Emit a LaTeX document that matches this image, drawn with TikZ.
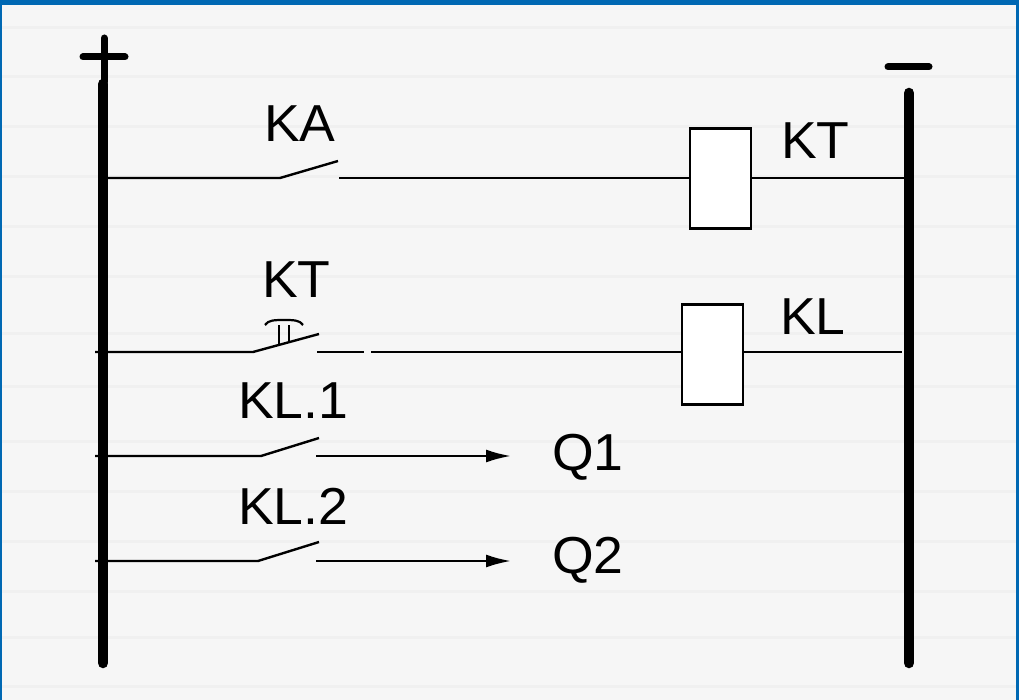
\documentclass[tikz,border=0pt]{standalone}
\usepackage{fontspec}
\setmainfont{Liberation Sans}
\definecolor{frameblue}{HTML}{0068B3}
\definecolor{bgfill}{HTML}{F6F6F6}
\definecolor{stripe}{HTML}{F0F0F0}
\usetikzlibrary{arrows.meta}
\tikzset{
  x=1pt,y=-1pt,
  bus/.style={line width=10.5pt,line cap=round,black},
  thinw/.style={line width=2.4pt,black},
  sign/.style={line width=7pt,line cap=round,black},
  coil/.style={draw=black,line width=2.2pt,fill=white,minimum width=61pt,minimum height=100pt,inner sep=0pt},
  lab/.style={font=\fontsize{52}{52}\selectfont,inner sep=0pt,text=black,xscale=1.03},
  arr/.style={thinw,-{Latex[length=25pt,width=13pt]}}
}
\begin{document}
\begin{tikzpicture}
\useasboundingbox (0,0) rectangle (1019,700);
\fill[bgfill] (0,0) rectangle (1019,700);
\foreach \yy in {26,75,125,175,225,275,332,385,440,490,540,590,636,685}
  \fill[stripe] (0,\yy) rectangle (1019,\yy+3);
\fill[frameblue] (0,0) rectangle (1019,5);
\fill[frameblue] (0,0) rectangle (2,700);
\fill[frameblue] (1016,0) rectangle (1019,700);
% buses
\coordinate (plusT) at (103,84);
\coordinate (plusB) at (103,663);
\coordinate (minusT) at (909,93);
\coordinate (minusB) at (909,663);
\draw[bus] (plusT) -- (plusB);
\draw[bus] (minusT) -- (minusB);
% signs
\coordinate (pv1) at (104,38);
\coordinate (pv2) at (104,82);
\coordinate (ph1) at (83,57);
\coordinate (ph2) at (125,57);
\coordinate (m1) at (888,67);
\coordinate (m2) at (929,67);
\draw[sign] (pv1) -- (pv2);
\draw[sign] (ph1) -- (ph2);
\draw[sign] (m1) -- (m2);
% coils
\node[coil] (kt) at (720.5,178.5) {};
\node[coil] (kl) at (712.5,354.5) {};
% row 1
\coordinate (a0) at (102,178);
\coordinate (a1) at (280,178);
\coordinate (a2) at (338,161);
\coordinate (a3) at (339,178);
\coordinate (a4) at (905,178);
\draw[thinw] (a0) -- (a1) -- (a2);
\draw[thinw] (a3) -- (a3 -| kt.west);
\draw[thinw] (a4 -| kt.east) -- (a4);
% row 2
\coordinate (b0) at (95,352);
\coordinate (b1) at (253,352);
\coordinate (b2) at (319,334);
\coordinate (b3) at (317,352);
\coordinate (b4) at (364,352);
\coordinate (b5) at (371,352);
\coordinate (b6) at (902,352);
\draw[thinw] (b0) -- (b1) -- (b2);
\draw[thinw] (b3) -- (b4);
\draw[thinw] (b5) -- (b5 -| kl.west);
\draw[thinw] (b6 -| kl.east) -- (b6);
% delay symbol
\coordinate (d1) at (279,344);
\coordinate (d2) at (279,325);
\coordinate (d3) at (289,342);
\coordinate (d4) at (289,325);
\coordinate (d5) at (265,325);
\coordinate (d6) at (303,325);
\draw[line width=2.4pt] (d1) -- (d2);
\draw[line width=2.4pt] (d3) -- (d4);
\draw[line width=2.2pt] (d5) .. controls (268,320) and (275,320) .. (284,320) .. controls (293,320) and (300,320) .. (d6);
% row 3
\coordinate (c0) at (95,456);
\coordinate (c1) at (261,456);
\coordinate (c2) at (319,438);
\coordinate (c3) at (316,456);
\coordinate (c4) at (511,456);
\node[lab,anchor=west] (q1) at (552,457) {Q1};
\draw[thinw] (c0) -- (c1) -- (c2);
\draw[arr] (c3) -- (c4);
% row 4
\coordinate (e0) at (95,561);
\coordinate (e1) at (258,561);
\coordinate (e2) at (319,542);
\coordinate (e3) at (316,561);
\coordinate (e4) at (511,561);
\node[lab,anchor=west] (q2) at (552,560) {Q2};
\draw[thinw] (e0) -- (e1) -- (e2);
\draw[arr] (e3) -- (e4);
% labels
\node[lab,anchor=west] (lka) at (264,124) {KA};
\node[lab,anchor=west] (lkt) at (781,141) {KT};
\node[lab,anchor=west] (lkt2) at (262,280) {KT};
\node[lab,anchor=west] (lkl) at (780,317) {KL};
\node[lab,anchor=west] (lkl1) at (238,401) {KL.1};
\node[lab,anchor=west] (lkl2) at (238,506) {KL.2};
\end{tikzpicture}
\end{document}
